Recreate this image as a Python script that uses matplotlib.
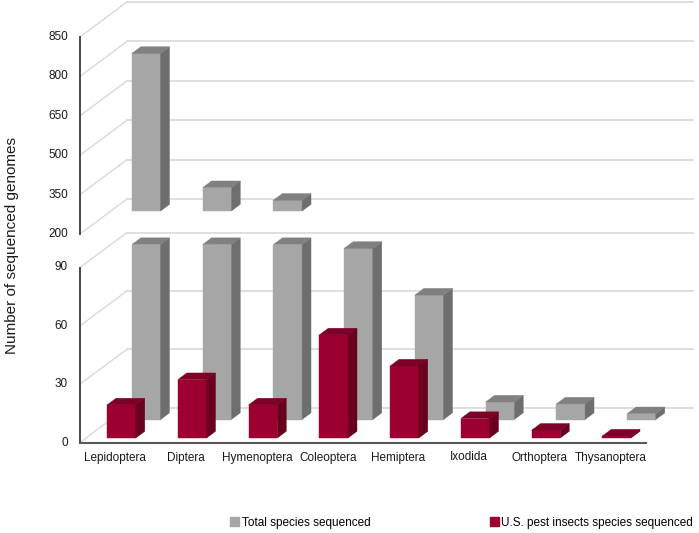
import matplotlib
matplotlib.use("Agg")
import matplotlib.pyplot as plt
from matplotlib.patches import Polygon, Patch

plt.rcParams['font.family'] = ['Liberation Sans', 'DejaVu Sans']

# data
categories = ["Lepidoptera", "Diptera", "Hymenoptera", "Coleoptera",
              "Hemiptera", "Ixodida", "Orthoptera", "Thysanoptera"]
total_sequenced = [800, 289, 241, 88, 64, 9, 8, 3]
pest_sequenced = [17, 30, 17, 53, 37, 10, 4, 1]

lower_ticks = [0, 30, 60, 90]
upper_ticks = [200, 350, 500, 650, 800, 950]
upper_tick_labels = ["200", "350", "500", "650", "800", "850"]

series_names = ["Total species sequenced", "U.S. pest insects species sequenced"]

# colours: front, side, top
gray = ("#a6a6a6", "#6e6e6e", "#808080")
red = ("#9b0030", "#68001e", "#7d0026")
grid_col = "#d9d9d9"

# geometry in figure pixels
W, H = 699, 533
left_px, right_px = 80, 646
wall_dx, wall_dy = 47, 35
pest_row, total_row, bar_depth = 0.13, 0.657, 0.19
bar_w = 0.405
n = len(categories)

fig = plt.figure(figsize=(W / 100, H / 100), dpi=100)


def make_panel(bottom_px, top_px, ylim):
    ax = fig.add_axes([left_px / W, 1 - bottom_px / H,
                       (right_px - left_px) / W, (bottom_px - top_px) / H])
    ax.set_xlim(0, n)
    ax.set_ylim(*ylim)
    ax.axis('off')
    ux = n / (right_px - left_px)
    uy = (ylim[1] - ylim[0]) / (bottom_px - top_px)
    return ax, ux, uy


def draw_walls(ax, ux, uy, ticks, labels):
    dx, dy = wall_dx * ux, wall_dy * uy
    for t, lab in zip(ticks, labels):
        ax.plot([0, dx], [t, t + dy], color=grid_col, lw=1, clip_on=False, zorder=1)
        ax.plot([dx, n + dx], [t + dy, t + dy], color=grid_col, lw=1.2,
                clip_on=False, zorder=1)
        ax.text(-12 * ux, t, lab, ha='right', va='center', fontsize=8.5,
                color='#1a1a1a')
    ax.plot([0, 0], [ticks[0], ticks[-1]], color='#3a3a3a', lw=1.3,
            clip_on=False, zorder=5)


def draw_box(ax, ux, uy, xc, y0, y1, row, cols, z):
    ox, oy = row * wall_dx * ux, row * wall_dy * uy
    bx, by = bar_depth * wall_dx * ux, bar_depth * wall_dy * uy
    x0 = xc - bar_w / 2 + ox
    x1 = x0 + bar_w
    yb, yt = y0 + oy, y1 + oy
    ax.bar(x0, yt - yb, width=bar_w, bottom=yb, align='edge', color=cols[0],
           edgecolor=cols[0], lw=0.3, clip_on=False, zorder=z)
    ax.add_patch(Polygon([(x1, yb), (x1 + bx, yb + by), (x1 + bx, yt + by), (x1, yt)],
                         closed=True, fc=cols[1], ec=cols[1], lw=0.3,
                         clip_on=False, zorder=z))
    ax.add_patch(Polygon([(x0, yt), (x1, yt), (x1 + bx, yt + by), (x0 + bx, yt + by)],
                         closed=True, fc=cols[2], ec=cols[2], lw=0.3,
                         clip_on=False, zorder=z))


# lower panel (0-90)
low, lux, luy = make_panel(442.5, 267.5, (0, 90))
draw_walls(low, lux, luy, lower_ticks, [str(t) for t in lower_ticks])
low.plot([0, n], [0, 0], color='#595959', lw=1.5, clip_on=False, zorder=6)
for i, (tot, pest) in enumerate(zip(total_sequenced, pest_sequenced)):
    draw_box(low, lux, luy, i + 0.5, 0, min(tot, lower_ticks[-1]), total_row, gray, 3)
    draw_box(low, lux, luy, i + 0.5, 0, pest, pest_row, red, 4)
    low.text(i + 0.5, -15 * luy, categories[i], ha='center', va='center',
             fontsize=8.5, color='#1a1a1a')

# upper panel (200 and above)
up, uux, uuy = make_panel(234, 37, (upper_ticks[0], upper_ticks[-1]))
draw_walls(up, uux, uuy, upper_ticks, upper_tick_labels)
for i, tot in enumerate(total_sequenced):
    if tot > upper_ticks[0]:
        draw_box(up, uux, uuy, i + 0.5, upper_ticks[0], tot, total_row, gray, 3)

fig.text(12 / W, 1 - 245 / H, "Number of sequenced genomes", rotation=90,
         ha='center', va='center', fontsize=11, color='#1a1a1a')

handles = [Patch(color=gray[0]), Patch(color=red[0])]
fig.legend(handles, series_names, loc='center', ncol=2,
           bbox_to_anchor=(461.5 / W, 10 / H), frameon=False, fontsize=8.5,
           handlelength=0.8, handleheight=0.8, handletextpad=0.2,
           columnspacing=10.1, borderpad=0)

fig.savefig("out.png", dpi=100)
